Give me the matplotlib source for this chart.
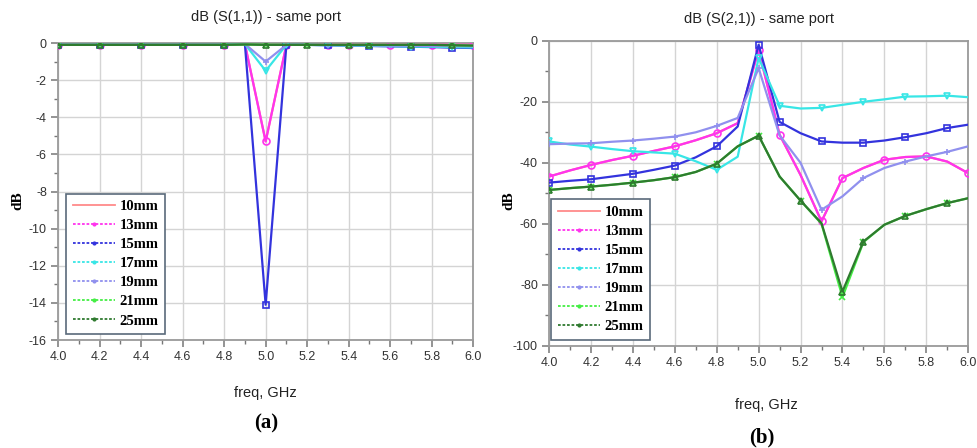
import matplotlib
matplotlib.use("Agg")
import matplotlib.pyplot as plt
from matplotlib.lines import Line2D
from matplotlib.ticker import MultipleLocator

plt.rcParams["axes.unicode_minus"] = False

freq = [4.0, 4.1, 4.2, 4.3, 4.4, 4.5, 4.6, 4.7, 4.8, 4.9, 5.0,
        5.1, 5.2, 5.3, 5.4, 5.5, 5.6, 5.7, 5.8, 5.9, 6.0]
labels = ["10mm", "13mm", "15mm", "17mm", "19mm", "21mm", "25mm"]

# S(1,1) in dB
s11 = {
    "10mm": [-0.1, -0.1, -0.1, -0.1, -0.1, -0.1, -0.1, -0.1, -0.1, -0.05, -5.3,
             -0.1, -0.1, -0.1, -0.1, -0.1, -0.1, -0.1, -0.1, -0.1, -0.1],
    "13mm": [-0.1, -0.1, -0.1, -0.1, -0.1, -0.1, -0.1, -0.1, -0.1, -0.05, -5.3,
             -0.1, -0.1, -0.1, -0.1, -0.1, -0.1, -0.1, -0.1, -0.1, -0.1],
    "15mm": [-0.1, -0.1, -0.1, -0.1, -0.1, -0.1, -0.1, -0.1, -0.1, -0.05, -14.1,
             -0.1, -0.1, -0.12, -0.14, -0.16, -0.18, -0.2, -0.22, -0.25, -0.27],
    "17mm": [-0.1, -0.1, -0.1, -0.1, -0.1, -0.1, -0.1, -0.1, -0.1, -0.05, -1.5,
             -0.1, -0.1, -0.12, -0.14, -0.15, -0.17, -0.19, -0.2, -0.22, -0.24],
    "19mm": [-0.1, -0.1, -0.1, -0.1, -0.1, -0.1, -0.1, -0.1, -0.1, -0.05, -1.0,
             -0.1, -0.1, -0.11, -0.12, -0.13, -0.14, -0.15, -0.16, -0.17, -0.18],
    "21mm": [-0.1, -0.1, -0.1, -0.1, -0.1, -0.1, -0.1, -0.1, -0.1, -0.08, -0.1,
             -0.1, -0.1, -0.1, -0.1, -0.1, -0.1, -0.1, -0.1, -0.12, -0.14],
    "25mm": [-0.1, -0.1, -0.1, -0.1, -0.1, -0.1, -0.1, -0.1, -0.1, -0.08, -0.1,
             -0.1, -0.1, -0.1, -0.1, -0.1, -0.1, -0.1, -0.1, -0.12, -0.14],
}

# S(2,1) in dB
s21 = {
    "10mm": [-44.5, -42.5, -40.7, -39.1, -37.7, -36.1, -34.6, -32.6, -30.3, -27.0, -3.0,
             -30.8, -44.0, -59.2, -45.0, -41.7, -39.0, -38.1, -37.9, -39.6, -43.4],
    "13mm": [-44.5, -42.5, -40.7, -39.1, -37.7, -36.1, -34.6, -32.6, -30.3, -27.0, -3.0,
             -30.8, -44.0, -59.2, -45.0, -41.7, -39.0, -38.1, -37.9, -39.6, -43.4],
    "15mm": [-46.5, -45.9, -45.4, -44.5, -43.6, -42.3, -40.9, -38.2, -34.6, -28.1, -1.3,
             -26.6, -30.3, -33.0, -33.4, -33.4, -32.7, -31.6, -30.3, -28.6, -27.5],
    "17mm": [-33.0, -34.0, -34.7, -35.5, -36.2, -36.6, -37.0, -39.5, -42.3, -38.0, -5.6,
             -21.3, -22.2, -22.0, -21.0, -20.0, -19.2, -18.3, -18.2, -18.0, -18.5],
    "19mm": [-33.9, -33.7, -33.6, -33.1, -32.7, -32.1, -31.4, -30.0, -27.9, -25.3, -9.0,
             -31.0, -40.0, -55.4, -51.0, -45.0, -41.7, -39.6, -37.9, -36.4, -34.6],
    "21mm": [-48.9, -48.3, -47.8, -47.2, -46.5, -45.7, -44.7, -43.0, -40.3, -34.6, -31.1,
             -44.5, -52.4, -60.0, -84.0, -66.0, -60.3, -57.4, -55.2, -53.2, -51.6],
    "25mm": [-48.9, -48.3, -47.8, -47.2, -46.5, -45.7, -44.7, -43.0, -40.3, -34.6, -31.1,
             -44.5, -52.4, -59.8, -82.2, -65.8, -60.3, -57.4, -55.2, -53.2, -51.6],
}

colors = {
    "10mm": "#ff8a8a", "13mm": "#ff33ee", "15mm": "#3333dd", "17mm": "#38e6e6",
    "19mm": "#9090ee", "21mm": "#44ee44", "25mm": "#2f7a2f",
}
markers = {
    "10mm": None, "13mm": "o", "15mm": "s", "17mm": "v",
    "19mm": "+", "21mm": "x", "25mm": "^",
}
mark_at = {
    "10mm": [],
    "13mm": [0, 2, 4, 6, 8, 10, 11, 13, 14, 16, 18, 20],
    "15mm": [0, 2, 4, 6, 8, 10, 11, 13, 15, 17, 19],
    "17mm": [0, 2, 4, 6, 8, 10, 11, 13, 15, 17, 19],
    "19mm": [0, 2, 4, 6, 8, 10, 13, 15, 17, 19],
    "21mm": [0, 2, 4, 6, 8, 10, 12, 14, 15, 17, 19],
    "25mm": [0, 2, 4, 6, 8, 10, 12, 14, 15, 17, 19],
}

sans = "Liberation Sans"
serif = "Liberation Serif"


def draw(ax, data, ylim, ystep, title, leg_x, title_pad):
    for name in labels:
        ax.plot(freq, data[name], color=colors[name], lw=1.6,
                marker=markers[name], markevery=mark_at[name] or None,
                markersize=5, markerfacecolor="none",
                markeredgewidth=1.2, zorder=3)
    ax.set_xlim(4.0, 6.0)
    ax.set_ylim(*ylim)
    ax.xaxis.set_major_locator(MultipleLocator(0.2))
    ax.xaxis.set_minor_locator(MultipleLocator(0.1))
    ax.yaxis.set_major_locator(MultipleLocator(ystep))
    ax.yaxis.set_minor_locator(MultipleLocator(ystep / 2))
    ax.set_xticklabels([f"{v:.1f}" for v in ax.get_xticks()])
    ax.grid(True, which="major", color="#d4d4d4", lw=1.0, zorder=0)
    for spine in ax.spines.values():
        spine.set_color("#9a9a9a")
        spine.set_linewidth(1.3)
    ax.tick_params(which="major", length=5, width=1.1, color="#777777",
                   labelsize=9, labelcolor="#333333", pad=3)
    ax.tick_params(which="minor", length=3, width=1.0, color="#777777")
    for lbl in ax.get_xticklabels() + ax.get_yticklabels():
        lbl.set_family(sans)
    ax.set_title(title, family=sans, fontsize=10.5, color="#222222",
                 pad=title_pad)

    handles = []
    for name in labels:
        if name == "10mm":
            handles.append(Line2D([], [], color=colors[name], lw=1.3))
        else:
            handles.append(Line2D([], [], color=colors[name], lw=1.3,
                                  ls=(0, (1.5, 1.0)), marker=".",
                                  markersize=4, markevery=[0, 2, 4, 6, 8]))
    leg = ax.legend(handles, labels, loc="lower left",
                    bbox_to_anchor=(leg_x, 0.02), borderaxespad=0,
                    prop={"family": serif, "weight": "bold", "size": 10.5},
                    handlelength=2.9, handletextpad=0.3, labelspacing=0.4,
                    borderpad=0.45, fancybox=False, framealpha=1)
    leg.get_frame().set_edgecolor("#5a6a7a")
    leg.get_frame().set_linewidth(1.2)


fig = plt.figure(figsize=(9.77, 4.48), dpi=100)
ax_a = fig.add_axes([0.0594, 0.241, 0.425, 0.663])
ax_b = fig.add_axes([0.562, 0.228, 0.429, 0.681])

draw(ax_a, s11, (-16, 0), 2, "dB (S(1,1)) - same port", 0.02, 16)
draw(ax_b, s21, (-100, 0), 20, "dB (S(2,1)) - same port", 0.005, 13)

fig.text(0.018, 0.553, "dB", rotation=90, ha="center", va="center",
         family=serif, weight="bold", fontsize=11)
fig.text(0.521, 0.553, "dB", rotation=90, ha="center", va="center",
         family=serif, weight="bold", fontsize=11)
fig.text(0.272, 1 - 393 / 448, "freq, GHz", ha="center", va="center",
         family=sans, fontsize=10.5, color="#222222")
fig.text(0.784, 1 - 405 / 448, "freq, GHz", ha="center", va="center",
         family=sans, fontsize=10.5, color="#222222")
fig.text(0.272, 1 - 423 / 448, "(a)", ha="center", va="center",
         family=serif, weight="bold", fontsize=15)
fig.text(0.780, 1 - 437 / 448, "(b)", ha="center", va="center",
         family=serif, weight="bold", fontsize=15)

fig.savefig("out.png", dpi=100)
